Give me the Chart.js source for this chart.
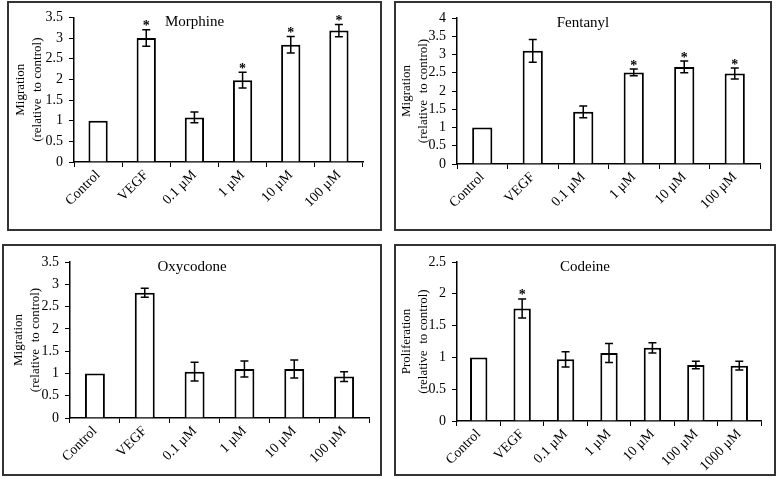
<!DOCTYPE html>
<html>
<head>
<meta charset="utf-8">
<script src="https://cdn.jsdelivr.net/npm/chart.js@4/dist/chart.umd.min.js"></script>
<style>
  body { margin: 0; background: #fff; width: 777px; height: 478px; position: relative; overflow: hidden; }
  .box { position: absolute; border: 2px solid #333; box-sizing: border-box; background: #fff; }
  .box canvas { display: block; }
</style>
</head>
<body>
<div class="box" style="left:7px;top:1px;width:375px;height:230px"><canvas id="c1" width="371" height="226"></canvas></div>
<div class="box" style="left:394px;top:1px;width:378px;height:230px"><canvas id="c2" width="374" height="226"></canvas></div>
<div class="box" style="left:2px;top:244px;width:380px;height:232px"><canvas id="c3" width="376" height="228"></canvas></div>
<div class="box" style="left:394px;top:244px;width:382px;height:232px"><canvas id="c4" width="378" height="228"></canvas></div>
<script>
// categories
const doseLabels = ['Control', 'VEGF', '0.1 µM', '1 µM', '10 µM', '100 µM'];
const codeineLabels = ['Control', 'VEGF', '0.1 µM', '1 µM', '10 µM', '100 µM', '1000 µM'];

// means, error (+/-) and significance marks
const morphineMean = [1, 3.0, 1.08, 1.98, 2.84, 3.18];
const morphineErr = [0, 0.2, 0.13, 0.19, 0.2, 0.15];
const morphineSig = [false, true, false, true, true, true];

const fentanylMean = [1, 3.10, 1.43, 2.51, 2.66, 2.48];
const fentanylErr = [0, 0.31, 0.16, 0.09, 0.16, 0.15];
const fentanylSig = [false, false, false, true, true, true];

const oxycodoneMean = [1, 2.81, 1.04, 1.10, 1.10, 0.93];
const oxycodoneErr = [0, 0.1, 0.21, 0.18, 0.2, 0.11];
const oxycodoneSig = [false, false, false, false, false, false];

const codeineMean = [1, 1.77, 0.97, 1.07, 1.15, 0.88, 0.87];
const codeineErr = [0, 0.15, 0.12, 0.15, 0.08, 0.06, 0.07];
const codeineSig = [false, true, false, false, false, false, false];

const SERIF = '"Liberation Serif", "Times New Roman", serif';

const panels = [
    { canvas: 'c1', labels: doseLabels, mean: morphineMean, err: morphineErr, sig: morphineSig,
      title: 'Morphine', yTitle: 'Migration', max: 3.5, top: 14, right: 17, yw: 65, xh: 67, tpad: 3 },
    { canvas: 'c2', labels: doseLabels, mean: fentanylMean, err: fentanylErr, sig: fentanylSig,
      title: 'Fentanyl', yTitle: 'Migration', max: 4, top: 15, right: 10, yw: 61, xh: 65, tpad: 2 },
    { canvas: 'c3', labels: doseLabels, mean: oxycodoneMean, err: oxycodoneErr, sig: oxycodoneSig,
      title: 'Oxycodone', yTitle: 'Migration', max: 3.5, top: 16, right: 11, yw: 66, xh: 56, tpad: 6 },
    { canvas: 'c4', labels: codeineLabels, mean: codeineMean, err: codeineErr, sig: codeineSig,
      title: 'Codeine', yTitle: 'Proliferation', max: 2.5, top: 16, right: 13, yw: 61, xh: 53, tpad: 2 }
];

function makeOverlay(p) {
    return {
        id: 'overlay',
        afterDatasetsDraw(chart) {
            const ctx = chart.ctx;
            const ys = chart.scales.y;
            const bars = chart.getDatasetMeta(0).data;
            ctx.save();
            ctx.strokeStyle = '#000';
            ctx.fillStyle = '#000';
            ctx.lineWidth = 1.5;
            bars.forEach(function (bar, i) {
                const v = p.mean[i];
                const e = p.err[i];
                const yTop = ys.getPixelForValue(v + e);
                if (e > 0) {
                    const yBot = ys.getPixelForValue(v - e);
                    ctx.beginPath();
                    ctx.moveTo(bar.x, yTop);
                    ctx.lineTo(bar.x, yBot);
                    ctx.moveTo(bar.x - 4, yTop);
                    ctx.lineTo(bar.x + 4, yTop);
                    ctx.moveTo(bar.x - 4, yBot);
                    ctx.lineTo(bar.x + 4, yBot);
                    ctx.stroke();
                }
                if (p.sig[i]) {
                    ctx.font = 'bold 14px ' + SERIF;
                    ctx.textAlign = 'center';
                    ctx.textBaseline = 'alphabetic';
                    ctx.fillText('*', bar.x, yTop + 0.5);
                }
            });
            // panel title sits inside the plot, centred on the box
            ctx.font = '15px ' + SERIF;
            ctx.textAlign = 'center';
            ctx.textBaseline = 'middle';
            ctx.fillText(p.title, chart.width / 2, chart.chartArea.top + 5);
            ctx.restore();
        }
    };
}

panels.forEach(function (p) {
    const ctx = document.getElementById(p.canvas).getContext('2d');
    new Chart(ctx, {
        type: 'bar',
        data: {
            labels: p.labels,
            datasets: [{
                data: p.mean,
                backgroundColor: '#fff',
                borderColor: '#000',
                borderWidth: 2,
                barPercentage: 0.4,
                categoryPercentage: 1
            }]
        },
        options: {
            responsive: false,
            animation: false,
            layout: { padding: { top: p.top, right: p.right, left: 0, bottom: 0 } },
            plugins: {
                legend: { display: false },
                tooltip: { enabled: false },
                title: { display: false }
            },
            scales: {
                x: {
                    afterFit: function (s) { s.height = p.xh; },
                    grid: { drawOnChartArea: false, color: '#000', tickLength: 5, offset: true },
                    border: { color: '#000', width: 1.5 },
                    ticks: {
                        color: '#000', font: { family: SERIF, size: 14 },
                        maxRotation: 45, minRotation: 45, padding: 0, autoSkip: false
                    }
                },
                y: {
                    min: 0,
                    max: p.max,
                    afterFit: function (s) { s.width = p.yw; },
                    grid: { drawOnChartArea: false, color: '#000', tickLength: 5 },
                    border: { color: '#000', width: 1.5 },
                    ticks: {
                        stepSize: 0.5, color: '#000', padding: 6, autoSkip: false,
                        font: { family: SERIF, size: 14 },
                        callback: function (v) { return String(v); }
                    },
                    title: {
                        display: true,
                        text: [p.yTitle, '(relative  to control)'],
                        color: '#000',
                        font: { family: SERIF, size: 13, lineHeight: 1.3 },
                        padding: { top: p.tpad, bottom: 0 }
                    }
                }
            }
        },
        plugins: [makeOverlay(p)]
    });
});
</script>
</body>
</html>
